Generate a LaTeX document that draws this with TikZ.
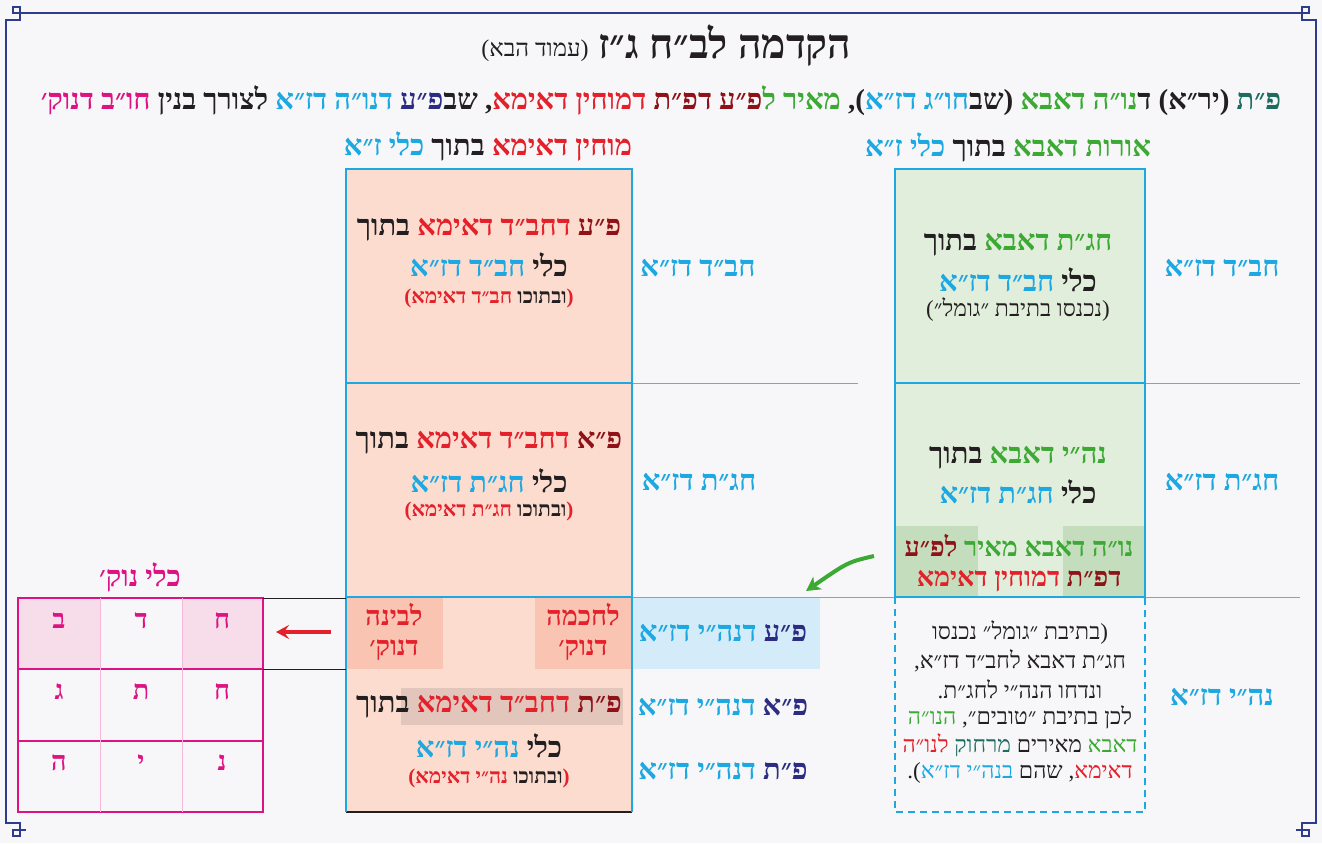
\documentclass[tikz,border=0pt]{standalone}
\usepackage{fontspec}
\newfontfamily\hebfont[Script=Hebrew]{Liberation Serif}
\usetikzlibrary{arrows.meta}

\definecolor{cy}{HTML}{1DA8E2}
\definecolor{gr}{HTML}{3DA935}
\definecolor{rd}{HTML}{E4202A}
\definecolor{dr}{HTML}{8E1217}
\definecolor{tl}{HTML}{1E6B5F}
\definecolor{nv}{HTML}{2C2C83}
\definecolor{mg}{HTML}{DD1383}
\definecolor{tx}{HTML}{231F20}
\definecolor{framec}{HTML}{2D3D8C}
\definecolor{bg}{HTML}{F7F7F9}
\definecolor{salmon}{HTML}{FCDCCF}
\definecolor{salmondk}{HTML}{F9C5B2}
\definecolor{hilite}{HTML}{E2C5BB}
\definecolor{lgreen}{HTML}{E2EEDC}
\definecolor{dgreen}{HTML}{C4DDBD}
\definecolor{lblue}{HTML}{D4ECF9}
\definecolor{lpink}{HTML}{F6DDE9}

\newcommand\clr[2]{{\color{#1}#2}}
\newcommand\wsep{\kern0pt\relax}

\tikzset{every picture/.style={line width=0.75pt}}
\tikzset{
  heb/.style={font=\hebfont\bfseries\fontsize{29}{32}\selectfont, text=tx, inner sep=0pt},
  hebmid/.style={font=\hebfont\bfseries\fontsize{27}{29}\selectfont, text=tx, inner sep=0pt},
  hebsm/.style={font=\hebfont\bfseries\fontsize{21}{24}\selectfont, text=tx, inner sep=0pt},
  hebrg/.style={font=\hebfont\fontsize{23}{25}\selectfont, text=tx, inner sep=0pt},
  lbl/.style={heb, text=cy},
  letter/.style={font=\hebfont\bfseries\fontsize{27}{30}\selectfont, text=mg, inner sep=0pt},
  keyline/.style={framec, line width=2.5pt},
  boxline/.style={cy, line width=2.5pt},
  thin/.style={cy!80, line width=0.8pt},
}

\begin{document}
\begin{tikzpicture}[x=1pt,y=1pt,yscale=-1]
	%background
	\fill[bg] (0,0) rectangle (1322,843);
	\useasboundingbox (0,0) rectangle (1322,843);

	%Frame
	\draw[keyline] (26,13) -- (1296,13);
	\draw[keyline] (6,34) -- (6,824);
	\draw[keyline] (1316,34) -- (1316,824);
	\foreach \sx/\sy/\ox/\oy in {1/1/0/0,-1/1/1322/0,1/-1/0/843,-1/-1/1322/843}{
		\begin{scope}[shift={(\ox,\oy)},xscale=\sx,yscale=\sy]
			\draw[keyline] (6,34) |- (20,20) |- (13,7) |- (26,13);
		\end{scope}
	}

	% Title
	\node[heb, font=\hebfont\bfseries\fontsize{41}{44}\selectfont] (title) at (725,46) {ג״ז לב״ח הקדמה};
	\node[hebrg, font=\hebfont\fontsize{24}{26}\selectfont] (subtitle) at (535,51) {)\wsep הבא עמוד\wsep(};

	% Header line
	\node[heb] (header) at (661,101) {\clr{mg}{דנוק׳} \clr{mg}{חו״ב} בנין לצורך \clr{cy}{דז״א} \clr{cy}{דנו״ה} \clr{nv}{פ״ע}\clr{tx}{שב} ,\wsep\clr{rd}{דאימא} \clr{rd}{דמוחין} \clr{dr}{דפ״ת} \clr{dr}{פ״ע}\clr{gr}{ל} \clr{gr}{מאיר} ,\wsep)\wsep\clr{cy}{דז״א} \clr{cy}{חו״ג}\clr{tx}{שב}\wsep( \clr{gr}{דאבא} \clr{gr}{נו״ה}\clr{tx}{ד} )\wsep יר״א\wsep( \clr{tl}{פ״ת}};

	% Column headers
	\node[heb] (headmid) at (488,147) {\clr{cy}{ז״א} \clr{cy}{כלי} בתוך \clr{rd}{דאימא} \clr{rd}{מוחין}};
	\node[heb] (headright) at (1008,147) {\clr{cy}{ז״א} \clr{cy}{כלי} בתוך \clr{gr}{דאבא} \clr{gr}{אורות}};

	%Middle box
	\fill[salmon] (346,169) rectangle (632,812);
	\fill[salmondk] (346,598) rectangle (443,669);
	\fill[salmondk] (535,598) rectangle (632,669);
	\fill[hilite] (401,688) rectangle (623,725);
	\fill[lblue] (632,598) rectangle (820,669);
	\draw[thin] (632,383) -- (858,383);
	\draw[thin] (632,597) -- (895,597);
	\draw[thin] (1145,383) -- (1300,383);
	\draw[thin] (1145,597) -- (1300,597);
	\draw[tx, line width=2pt] (346,812) -- (632,812);
	\draw[boxline] (346,812) -- (346,169) -- (632,169) -- (632,812);
	\draw[boxline] (346,383) -- (632,383);
	\draw[boxline] (346,597) -- (632,597);

	%Right box
	\fill[lgreen] (895,169) rectangle (1145,597);
	\fill[dgreen] (895,526) rectangle (978,597);
	\fill[dgreen] (1063,526) rectangle (1145,597);
	\draw[boxline] (895,169) rectangle (1145,597);
	\draw[boxline] (895,383) -- (1145,383);
	\draw[boxline, dash pattern=on 7pt off 5pt] (895,597) -- (895,812) -- (1145,812) -- (1145,597);

	% Middle box text
	\node[heb] (m1a) at (489,230) {בתוך \clr{rd}{דאימא} \clr{rd}{דחב״ד} \clr{dr}{פ״ע}};
	\node[heb] (m1b) at (489,265) {\clr{cy}{דז״א} \clr{cy}{חב״ד} כלי};
	\node[hebsm] (m1c) at (489,298) {\clr{rd}{)\wsep דאימא} \clr{rd}{חב״ד} ובתוכו\wsep\clr{rd}{(}};
	\node[heb] (m2a) at (489,443) {בתוך \clr{rd}{דאימא} \clr{rd}{דחב״ד} \clr{dr}{פ״א}};
	\node[heb] (m2b) at (489,481) {\clr{cy}{דז״א} \clr{cy}{חג״ת} כלי};
	\node[hebsm] (m2c) at (489,511) {\clr{rd}{)\wsep דאימא} \clr{rd}{חג״ת} ובתוכו\wsep\clr{rd}{(}};
	\node[hebmid, text=rd] (bina1) at (394,615) {לבינה};
	\node[hebmid, text=rd] (bina2) at (394,650) {דנוק׳};
	\node[hebmid, text=rd] (chochma1) at (583,615) {לחכמה};
	\node[hebmid, text=rd] (chochma2) at (583,650) {דנוק׳};
	\node[heb] (m3a) at (489,707) {בתוך \clr{rd}{דאימא} \clr{rd}{דחב״ד} \clr{dr}{פ״ת}};
	\node[heb] (m3b) at (489,746) {\clr{cy}{דז״א} \clr{cy}{נה״י} כלי};
	\node[hebsm] (m3c) at (489,778) {\clr{rd}{)\wsep דאימא} \clr{rd}{נה״י} ובתוכו\wsep\clr{rd}{(}};

	% Labels next to middle box
	\node[lbl] (z1) at (698,268) {דז״א חב״ד};
	\node[lbl] (z2) at (699,482) {דז״א חג״ת};
	\node[lbl] (z3a) at (723,633) {דז״א דנה״י \clr{nv}{פ״ע}};
	\node[lbl] (z3b) at (723,707) {דז״א דנה״י \clr{nv}{פ״א}};
	\node[lbl] (z3c) at (723,771) {דז״א דנה״י \clr{nv}{פ״ת}};

	% Right box text
	\node[heb] (a1a) at (1018,245) {בתוך \clr{gr}{דאבא} \clr{gr}{חג״ת}};
	\node[heb] (a1b) at (1018,280) {\clr{cy}{דז״א} \clr{cy}{חב״ד} כלי};
	\node[hebrg] (a1c) at (1018,310) {)\wsep ״גומל״ בתיבת נכנסו\wsep(};
	\node[heb] (a2a) at (1018,458) {בתוך \clr{gr}{דאבא} \clr{gr}{נה״י}};
	\node[heb] (a2b) at (1018,492) {\clr{cy}{דז״א} \clr{cy}{חג״ת} כלי};
	\node[hebmid] (a2c) at (1019,546) {\clr{dr}{לפ״ע} \clr{gr}{מאיר} \clr{gr}{דאבא} \clr{gr}{נו״ה}};
	\node[hebmid] (a2d) at (1019,581) {\clr{rd}{דאימא} \clr{rd}{דמוחין} \clr{dr}{דפ״ת}};

	% Dashed box text
	\node[hebrg] (d1) at (1020,633) {נכנסו ״גומל״ בתיבת\wsep(};
	\node[hebrg] (d2) at (1020,661) {,\wsep דז״א לחב״ד דאבא חג״ת};
	\node[hebrg] (d3) at (1020,689) {.\wsep לחג״ת הנה״י ונדחו};
	\node[hebrg] (d4) at (1020,717) {\clr{gr}{הנו״ה} ,\wsep ״טובים״ בתיבת לכן};
	\node[hebrg] (d5) at (1020,745) {\clr{rd}{לנו״ה} \clr{tl}{מרחוק} מאירים \clr{gr}{דאבא}};
	\node[hebrg] (d6) at (1020,773) {.\wsep)\wsep\clr{cy}{דז״א} \clr{cy}{בנה״י} שהם ,\wsep\clr{rd}{דאימא}};

	% Right labels
	\node[lbl] (r1) at (1222,268) {דז״א חב״ד};
	\node[lbl] (r2) at (1222,482) {דז״א חג״ת};
	\node[lbl] (r3) at (1222,697) {דז״א נה״י};

	% Nukva grid
	\node[heb, text=mg] (nukhead) at (140,577) {נוק׳ כלי};
	\fill[lpink] (18,598) rectangle (100,669);
	\fill[lpink] (182,598) rectangle (263,669);
	\draw[mg, line width=2.5pt] (18,598) rectangle (263,812);
	\foreach \yy in {669,741} \draw[mg, line width=2.5pt] (18,\yy) -- (263,\yy);
	\foreach \xx in {100,182} \draw[mg!30, line width=1pt] (\xx,598) -- (\xx,812);
	\node[letter] (l11) at (59,621) {ב};
	\node[letter] (l12) at (141,621) {ד};
	\node[letter] (l13) at (222,621) {ח};
	\node[letter] (l21) at (59,692) {ג};
	\node[letter] (l22) at (141,692) {ת};
	\node[letter] (l23) at (222,692) {ח};
	\node[letter] (l31) at (59,763) {ה};
	\node[letter] (l32) at (141,763) {י};
	\node[letter] (l33) at (222,763) {נ};

	% bracket lines
	\coordinate (bt) at (263,598);
	\coordinate (bb) at (263,669);
	\draw[tx, line width=1pt] (bt) -- (346,598);
	\draw[tx, line width=1pt] (bb) -- (346,669);

	% Arrows
	\coordinate (gtail) at (874,556);
	\coordinate (ghead) at (806,591);
	\draw[gr, line width=4pt, -{Stealth[length=14pt,width=15pt,inset=4pt]}] (gtail) .. controls (848,562) .. (ghead);
	\coordinate (rtail) at (331,632);
	\coordinate (rhead) at (276,632);
	\draw[rd, line width=4.5pt, -{Stealth[length=13pt,width=14pt,inset=5pt]}] (rtail) -- (rhead);
\end{tikzpicture}
\end{document}
